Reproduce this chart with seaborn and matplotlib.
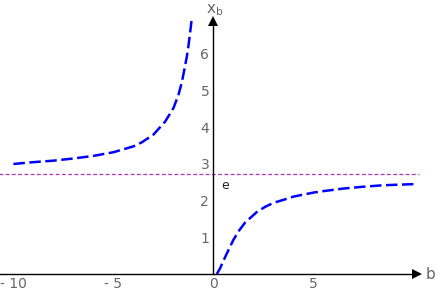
import numpy as np
import matplotlib
matplotlib.use("Agg")
import matplotlib.pyplot as plt
import seaborn as sns

# values
b_left = [-10.0, -9.0, -8.0, -7.0, -6.0, -5.0, -4.0, -3.58, -3.0, -2.42,
          -2.0, -1.75, -1.58, -1.45, -1.33, -1.24, -1.16, -1.08]
x_left = [3.00, 3.05, 3.09, 3.15, 3.22, 3.32, 3.48, 3.59, 3.80, 4.15,
          4.52, 4.88, 5.22, 5.58, 5.92, 6.25, 6.60, 6.97]

b_right = [0.17, 0.33, 0.55, 0.75, 1.0, 1.25, 1.58, 2.17, 2.58, 3.0,
           3.67, 4.0, 5.0, 5.5, 6.5, 7.5, 8.5, 10.0]
x_right = [0.0, 0.15, 0.42, 0.65, 0.93, 1.16, 1.40, 1.69, 1.83, 1.94,
           2.05, 2.11, 2.22, 2.26, 2.33, 2.38, 2.42, 2.45]

e_value = 2.718
x_ticks = [-10, -5, 0, 5]
x_tick_labels = ["- 10", "- 5", "0", "5"]
y_ticks = [1, 2, 3, 4, 5, 6]

sns.set_style("white")
plt.rcParams["font.family"] = ["DejaVu Sans"]

fig = plt.figure(figsize=(4.36, 2.92), dpi=100)
ax = fig.add_axes([0, 0, 1, 1])

# the two branches of the curve
blue_dash = (0, (4.6, 1.8))
sns.lineplot(x=b_left, y=x_left, ax=ax, color="#0000ff", lw=1.8, ls=blue_dash)
sns.lineplot(x=b_right, y=x_right, ax=ax, color="#0000ff", lw=1.8, ls=blue_dash)

# horizontal line at e
ax.plot([-10.7, 10.3], [e_value, e_value], color="#b030b8", lw=0.9,
        ls=(0, (3, 2)))
ax.text(0.4, 2.4, "e", fontsize=9, color="#222222", ha="left", va="center")

ax.set_xlim(-10.67, 11.13)
ax.set_ylim(-0.49, 7.47)

# axes through the origin with arrow heads
ax.spines["left"].set_position(("data", 0))
ax.spines["bottom"].set_position(("data", 0))
ax.spines["right"].set_visible(False)
ax.spines["top"].set_visible(False)
ax.spines["left"].set_bounds(0, 6.9)
ax.spines["bottom"].set_bounds(-10.67, 10.2)
for s in ["left", "bottom"]:
    ax.spines[s].set_linewidth(1.0)
    ax.spines[s].set_color("black")
ax.plot(10.2, 0, marker=">", color="black", ms=7, mew=0, clip_on=False)
ax.plot(0, 6.9, marker="^", color="black", ms=7, mew=0, clip_on=False)

ax.set_xticks(x_ticks)
ax.set_xticklabels(x_tick_labels)
ax.set_xticks(np.arange(-10, 11, 1), minor=True)
ax.set_yticks(y_ticks)
ax.set_yticks(np.arange(0.2, 6.9, 0.2), minor=True)
ax.tick_params(which="both", direction="in", colors="#555555",
               labelcolor="#666666", labelsize=10, pad=3)
ax.tick_params(which="major", length=3.5, width=0.8)
ax.tick_params(which="minor", length=2, width=0.6)
ax.tick_params(axis="x", pad=2)

ax.text(0.05, 7.2, r"$\mathregular{x_b}$", fontsize=11, color="#666666",
        ha="center", va="center")
ax.text(10.85, 0.0, "b", fontsize=11, color="#666666", ha="center",
        va="center")

fig.savefig("out.png", dpi=100)
